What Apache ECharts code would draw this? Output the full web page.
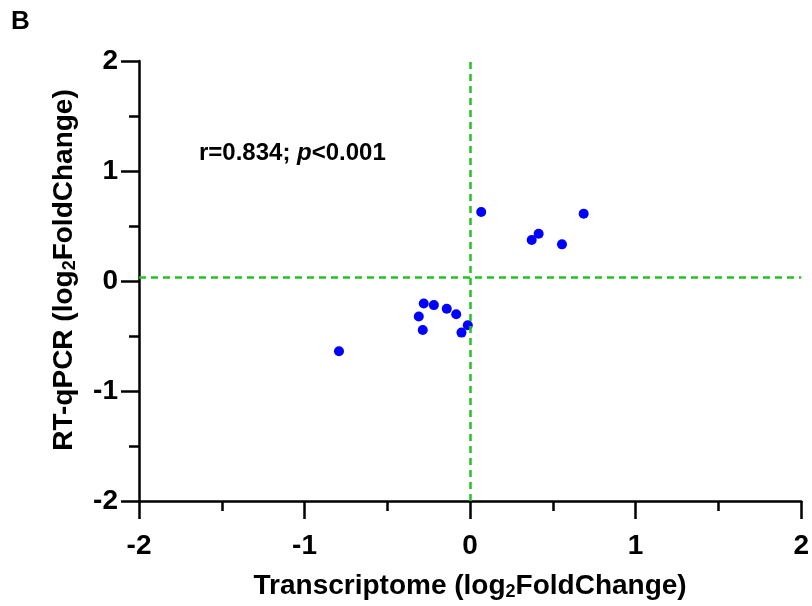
<!DOCTYPE html>
<html>
<head>
<meta charset="utf-8">
<script src="https://cdn.jsdelivr.net/npm/echarts@6/dist/echarts.min.js"></script>
<style>
  html, body { margin: 0; padding: 0; background: #fff; }
  #chart { width: 812px; height: 606px; }
</style>
</head>
<body>
<div id="chart"></div>
<script>
// 转录组 vs RT-qPCR (log2FoldChange)
const transcriptome = [0.067, 0.686, 0.414, 0.372, 0.555, -0.280, -0.219, -0.141, -0.084, -0.310, -0.014, -0.286, -0.052, -0.792]
const rtqpcr = [0.627, 0.611, 0.430, 0.373, 0.333, -0.204, -0.219, -0.252, -0.303, -0.322, -0.403, -0.446, -0.469, -0.639]
const tickValues = [-2, -1, 0, 1, 2]

const FONT = '"Liberation Sans", Arial, sans-serif'
const DASH_GREEN = '#22C322'

const chart = echarts.init(document.getElementById('chart'))

const axisCommon = {
  min: -2,
  max: 2,
  interval: 1,
  axisLine: { show: true, onZero: false, lineStyle: { color: '#000', width: 2.5 } },
  axisTick: { show: true, inside: false, length: 18, lineStyle: { color: '#000', width: 2.5 } },
  minorTick: { show: true, splitNumber: 2, length: 10, lineStyle: { color: '#000', width: 2.5 } },
  splitLine: { show: false },
  axisLabel: {
    color: '#000',
    fontFamily: FONT,
    fontWeight: 'bold',
    fontSize: 28,
    formatter: v => tickValues.includes(v) ? String(v) : ''
  },
  nameLocation: 'middle'
}

const nameStyle = (extra) => Object.assign({
  color: '#000',
  fontFamily: FONT,
  fontWeight: 'bold',
  fontSize: 28,
  rich: {
    b: { fontFamily: FONT, fontWeight: 'bold', fontSize: 28, color: '#000' },
    sub: { fontFamily: FONT, fontWeight: 'bold', fontSize: 18, color: '#000', verticalAlign: 'bottom', padding: [12, 0, 0, 0] }
  }
}, extra)

chart.setOption({
  backgroundColor: '#fff',
  animation: false,
  grid: { left: 139, right: 10, top: 61, bottom: 104 },
  xAxis: Object.assign({}, axisCommon, {
    type: 'value',
    name: '{b|Transcriptome (log}{sub|2}{b|FoldChange)}',
    nameGap: 70,
    nameTextStyle: nameStyle({}),
    axisLabel: Object.assign({}, axisCommon.axisLabel, { margin: 31 })
  }),
  yAxis: Object.assign({}, axisCommon, {
    type: 'value',
    name: '{b|RT-qPCR (log}{sub|2}{b|FoldChange)}',
    nameGap: 60,
    nameTextStyle: nameStyle({ padding: [0, 0, 0, 22] }),
    axisLabel: Object.assign({}, axisCommon.axisLabel, { margin: 21 })
  }),
  graphic: [
    {
      type: 'text',
      left: 11,
      top: 9,
      style: { text: 'B', font: 'bold 26px "Liberation Sans", Arial, sans-serif', fill: '#000' }
    },
    {
      type: 'text',
      left: 199,
      top: 141,
      style: {
        text: '{b|r=0.834; }{i|p}{b|<0.001}',
        rich: {
          b: { fontFamily: FONT, fontWeight: 'bold', fontSize: 24, fill: '#000' },
          i: { fontFamily: FONT, fontWeight: 'bold', fontStyle: 'italic', fontSize: 24, fill: '#000' }
        }
      }
    }
  ],
  series: [{
    type: 'scatter',
    data: transcriptome.map((x, i) => [x, rtqpcr[i]]),
    symbol: 'circle',
    symbolSize: 10,
    itemStyle: { color: '#0000FF', opacity: 1 },
    markLine: {
      silent: true,
      symbol: 'none',
      label: { show: false },
      lineStyle: { color: DASH_GREEN, width: 2.5, type: [7, 5] },
      data: [{ xAxis: 0 }, { yAxis: 0.03 }]
    },
    z: 3
  }]
})
</script>
</body>
</html>
